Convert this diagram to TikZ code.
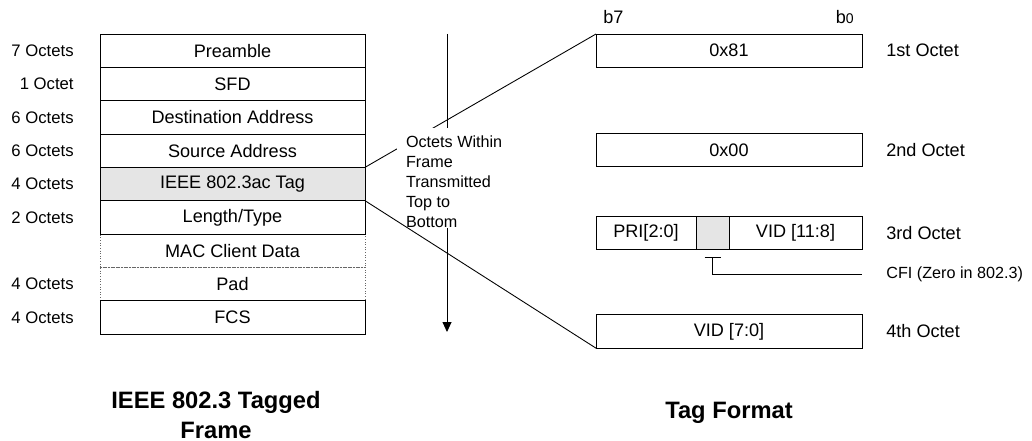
\documentclass[tikz,border=0pt]{standalone}
\usepackage{fontspec}
\setmainfont{Liberation Sans}
\usetikzlibrary{arrows.meta,positioning,backgrounds}
\tikzset{
	every node/.style={
		font=\fontsize{10.3}{12}\selectfont,
		inner sep=0pt
	},
	field/.style={
		shape=rectangle,
		minimum width=5.3cm,
		minimum height=0.6667cm,
		outer sep=0pt,
		draw,
		line width=0.5pt
	},
	loosefield/.style={
		field,
		draw=black!60,
		densely dotted
	},
	tagbyte/.style={
		shape=rectangle,
		minimum width=5.32cm,
		minimum height=0.6667cm,
		outer sep=0pt,
		draw,
		line width=0.5pt
	},
	octets/.style={
		xshift=-0.52cm,
		font=\fontsize{9.5}{11}\selectfont
	},
	octnum/.style={
		xshift=0.48cm,
		font=\fontsize{10.3}{12}\selectfont
	},
	side/.style={
		font=\fontsize{9.2}{11}\selectfont
	},
	note/.style={
		fill=white,
		align=left,
		inner xsep=0.174cm,
		inner ysep=0pt,
		font=\fontsize{9.2}{11.34}\selectfont
	},
	heading/.style={
		align=center,
		font=\bfseries\fontsize{13.5}{17}\selectfont
	},
	link/.style={line width=0.5pt}
}

\begin{document}
\begin{tikzpicture}[x=0.2mm, y=-0.2mm]
\useasboundingbox (0,0) rectangle (1032,441);

\node [field, label={[octets]left:7 Octets}] (pre) at (232.5,50.67) {Preamble};
\node [field, below=0pt of pre, label={[octets]left:1 Octet}] (sfd) {SFD};
\node [field, below=0pt of sfd, label={[octets]left:6 Octets}] (dst) {Destination Address};
\node [field, below=0pt of dst, label={[octets]left:6 Octets}] (src) {Source Address};
\node [field, fill=gray!20, below=0pt of src, label={[octets]left:4 Octets}] (tag) {IEEE 802.3ac Tag};
\node [field, below=0pt of tag, label={[octets]left:2 Octets}] (len) {Length/Type};
\begin{scope}[on background layer]
\node [loosefield, below=0pt of len] (data) {MAC Client Data};
\node [loosefield, below=0pt of data, label={[octets]left:4 Octets}] (pad) {Pad};
\end{scope}
\node [field, below=0pt of pad, label={[octets]left:4 Octets}] (fcs) {FCS};

\node [tagbyte, label={[octnum]right:1st Octet}] (oct1) at (729,50.67) {0x81};
\node [tagbyte, label={[octnum]right:2nd Octet}] (oct2) at (729,150) {0x00};
\node [tagbyte, minimum width=2cm] (pri) at (646,232.67) {PRI[2:0]};
\node [tagbyte, minimum width=0.66cm, fill=gray!20, right=0pt of pri] (cfi) {};
\node [tagbyte, minimum width=2.66cm, right=0pt of cfi, label={[octnum]right:3rd Octet}] (vidhi) {VID [11:8]};
\node [tagbyte, label={[octnum]right:4th Octet}] (oct4) at (729,331.5) {VID [7:0]};

\node [anchor=base west] (msb) at (603,23.3) {b7};
\node [anchor=base east] (lsb) at (854,23.3) {b{\fontsize{8}{9}\selectfont 0}};

\node [side, anchor=west] (cfitext) at (886,274) {CFI (Zero in 802.3)};
\coordinate (cfitick) at ([yshift=-0.16cm]cfi.south);
\draw [link] ([xshift=-0.16cm]cfitick) -- ([xshift=0.16cm]cfitick);
\draw [link] (cfitick) |- ([xshift=-0.48cm]cfitext.west);

\coordinate (flowtop) at (447,34);
\coordinate (flowend) at (447,332);
\draw [link] (tag.north east) -- (oct1.north west);
\draw [link, -{Triangle[width=0.18cm,length=0.2cm]}] (flowtop) -- (flowend);
\node [note, anchor=north west] (order) at (397,128) {\rule{0pt}{11pt}Octets Within\\Frame\\Transmitted\\Top to\\Bottom};
\draw [link] (tag.south east) -- (oct4.south west);

\node [heading] (frametitle) at (216,415) {IEEE 802.3 Tagged\\Frame};
\node [heading] (tagtitle) at (729,413) {Tag Format};

\end{tikzpicture}
\end{document}
